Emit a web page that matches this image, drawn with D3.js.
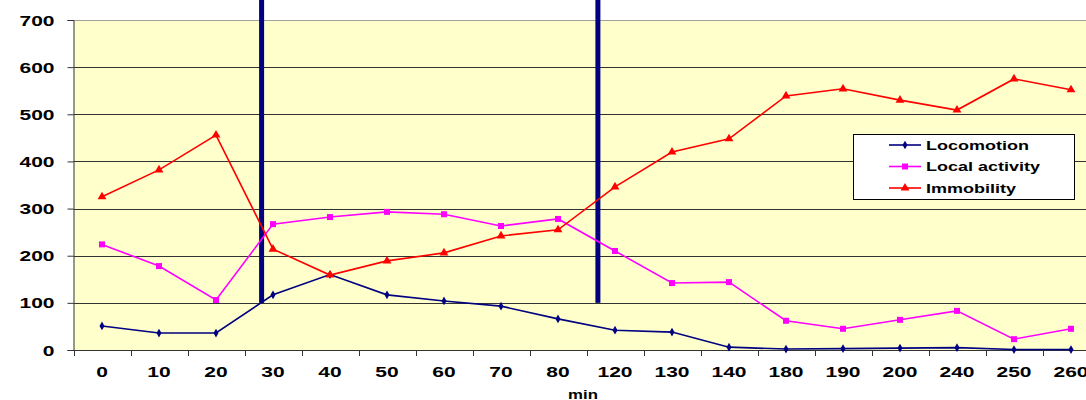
<!DOCTYPE html>
<html><head><meta charset="utf-8">
<script src="https://cdn.jsdelivr.net/npm/d3@7"></script>
<style>body{margin:0;background:#fff;overflow:hidden}svg{display:block}</style>
</head><body>
<svg id="c" width="1086" height="400"></svg>
<script>
const categories = ["0","10","20","30","40","50","60","70","80","120","130","140","180","190","200","240","250","260"];
const locomotion = [51,36,36,117,160,117,104,93,66,42,38,6,2,3,4,5,1,1];
const localActivity = [224,178,106,267,282,293,288,263,278,210,142,144,62,45,64,83,23,45];
const immobility = [325,382,456,214,159,189,206,242,255,346,420,448,539,554,530,509,575,552];
const yTicks = [0,100,200,300,400,500,600,700];
const seriesNames = ["Locomotion","Local activity","Immobility"];
// vertical phase separators: after category, fractional offset, top value
const separators = [{after:"20", frac:0.8},{after:"80", frac:0.7}];
const separatorBottom = 100;

const svg = d3.select("#c");
const L = 73.5, R = 1099.5, T = 20, B = 350;
const x = d3.scaleBand().domain(categories).range([L, R]);
const y = d3.scaleLinear().domain([0, 700]).range([B, T]);
const cx = c => x(c) + x.bandwidth()/2;
const SX = 1.5;
const font = "'Liberation Sans', Arial, sans-serif";

svg.append("rect").attr("x", L).attr("y", T).attr("width", R-L).attr("height", B-T).attr("fill", "#FFFFCC");

// gridlines
svg.append("g").selectAll("line").data(yTicks.filter(d=>d>0)).join("line")
  .attr("x1", L).attr("x2", R).attr("y1", d=>Math.round(y(d))+0.5).attr("y2", d=>Math.round(y(d))+0.5)
  .attr("stroke", d=> d===700 ? "#a0a0a0" : "#333").attr("stroke-width", 1);

// y axis
const yAxis = svg.append("g").attr("transform", `translate(${L},0)`)
  .call(d3.axisLeft(y).tickValues(yTicks).tickSize(6).tickFormat(d3.format("d")));
yAxis.select(".domain").attr("stroke", "#333");
yAxis.selectAll(".tick line").attr("stroke", "#333");
yAxis.selectAll(".tick text").remove();
yAxis.selectAll(".tick").append("text")
  .attr("transform", `translate(-19,5) scale(${SX},1)`)
  .attr("text-anchor", "end").attr("fill", "#000")
  .style("font", `bold 14px ${font}`).text(d=>d);

// x axis
const xAxis = svg.append("g").attr("transform", `translate(0,${B})`)
  .call(d3.axisBottom(x).tickSize(0).tickFormat(""));
xAxis.select(".domain").attr("stroke", "#333");
xAxis.selectAll(".tick").append("text")
  .attr("transform", `translate(0,27) scale(${SX},1)`)
  .attr("text-anchor", "middle").attr("fill", "#000")
  .style("font", `bold 14px ${font}`).text(d=>d);
svg.append("g").selectAll("line").data(categories).join("line")
  .attr("x1", d=>Math.round(x(d))+0.5).attr("x2", d=>Math.round(x(d))+0.5)
  .attr("y1", B).attr("y2", B+6).attr("stroke", "#333");

svg.append("text").attr("transform", `translate(583,399) scale(1.4,1)`)
  .attr("text-anchor", "middle").style("font", `bold 12px ${font}`).text("min");

// separators
svg.append("g").selectAll("rect").data(separators).join("rect")
  .attr("x", d=> cx(d.after) + d.frac*x.step() - 2.5)
  .attr("y", 0).attr("width", 5).attr("height", y(separatorBottom))
  .attr("fill", "#000080");

const series = [
  {name: seriesNames[0], values: locomotion, color: "#000080", sym: d3.symbolDiamond, size: 22},
  {name: seriesNames[1], values: localActivity, color: "#FF00FF", sym: d3.symbolSquare, size: 36},
  {name: seriesNames[2], values: immobility, color: "#FF0000", sym: d3.symbolTriangle, size: 34}
];
const line = d3.line().x((d,i)=>cx(categories[i])).y(d=>y(d));
series.forEach(s => {
  svg.append("path").datum(s.values).attr("d", line).attr("fill", "none")
    .attr("stroke", s.color).attr("stroke-width", 1.6);
  svg.append("g").selectAll("path").data(s.values).join("path")
    .attr("transform", (d,i)=>`translate(${cx(categories[i])},${y(d)})`)
    .attr("d", d3.symbol().type(s.sym).size(s.size)).attr("fill", s.color);
});

// legend
const lg = svg.append("g");
lg.append("rect").attr("x", 853.5).attr("y", 134.5).attr("width", 221).attr("height", 65)
  .attr("fill", "#fff").attr("stroke", "#000").attr("stroke-width", 1);
series.forEach((s, i) => {
  const yy = 145 + i*21.5;
  lg.append("line").attr("x1", 889).attr("x2", 921).attr("y1", yy).attr("y2", yy)
    .attr("stroke", s.color).attr("stroke-width", 1.6);
  lg.append("path").attr("transform", `translate(905,${yy})`)
    .attr("d", d3.symbol().type(s.sym).size(s.size)).attr("fill", s.color);
  lg.append("text").attr("transform", `translate(926,${yy+4.5}) scale(${SX},1)`)
    .style("font", `bold 12px ${font}`).text(s.name);
});
</script>
</body></html>
